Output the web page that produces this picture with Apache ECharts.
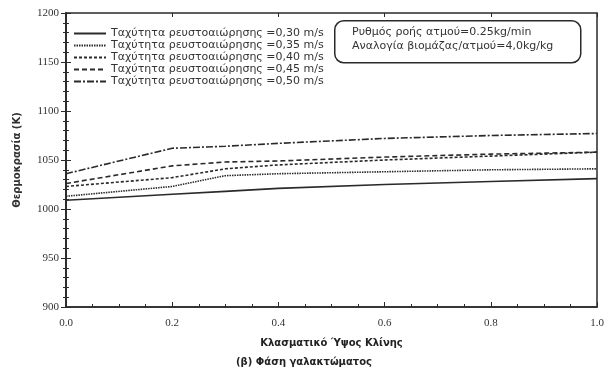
<!DOCTYPE html>
<html><head><meta charset="utf-8">
<script src="https://cdn.jsdelivr.net/npm/echarts@6/dist/echarts.min.js"></script>
<style>html,body{margin:0;padding:0;background:#fff}#c{width:608px;height:374px}</style>
</head><body><div id="c"></div>
<script>
var xPos = [0, 0.2, 0.3, 0.4, 0.6, 0.8, 1.0];
var seriesNames = [
  'Ταχύτητα ρευστοαιώρησης =0,30 m/s',
  'Ταχύτητα ρευστοαιώρησης =0,35 m/s',
  'Ταχύτητα ρευστοαιώρησης =0,40 m/s',
  'Ταχύτητα ρευστοαιώρησης =0,45 m/s',
  'Ταχύτητα ρευστοαιώρησης =0,50 m/s'
];
var v030 = [1009, 1015, 1018, 1021, 1025, 1028, 1031];
var v035 = [1013, 1023, 1034, 1036, 1038, 1040, 1041];
var v040 = [1023, 1032, 1041, 1045, 1050, 1054, 1058];
var v045 = [1026, 1044, 1048, 1049, 1053, 1056, 1058];
var v050 = [1036, 1062, 1064, 1067, 1072, 1075, 1077];
var xTicks = ['0.0', '0.2', '0.4', '0.6', '0.8', '1.0'];
var yTicks = [900, 950, 1000, 1050, 1100, 1150, 1200];
var xTitle = 'Κλασματικό Ύψος Κλίνης';
var subTitle = '(β) Φάση γαλακτώματος';
var yTitle = 'Θερμοκρασία (K)';
var noteLines = ['Ρυθμός ροής ατμού=0.25kg/min', 'Αναλογία βιομάζας/ατμού=4,0kg/kg'];

var allVals = [v030, v035, v040, v045, v050];
var dashes = ['solid', [1.5, 1], [3, 2], [5, 3], [7, 2, 2, 2]];
function pairs(v){ return xPos.map(function(x,i){ return [x, v[i]]; }); }

var chart = echarts.init(document.getElementById('c'));
var ink = '#2a2a2a';
chart.setOption({
  animation:false,
  backgroundColor:'#fff',
  grid:{left:66,right:11,top:13,bottom:67,show:true,borderColor:ink,borderWidth:1.5},
  legend:{
    orient:'vertical',left:68,top:23,itemWidth:32,itemHeight:10,itemGap:1,
    data:seriesNames,
    itemStyle:{opacity:0},
    textStyle:{fontFamily:'DejaVu Sans',fontSize:11,color:'#333',lineHeight:10,height:10}
  },
  xAxis:[
    {type:'value',min:0,max:1,interval:0.2,position:'bottom',
      axisLine:{show:true,lineStyle:{color:ink,width:1.5}},
      axisTick:{show:true,inside:true,length:5,lineStyle:{color:ink}},
      minorTick:{show:true,splitNumber:4,length:3,lineStyle:{color:ink}},
      splitLine:{show:false},
      axisLabel:{color:'#333',fontFamily:'Liberation Serif',fontSize:11,margin:11,
        formatter:function(v){ return xTicks[Math.round(v/0.2)]; }},
      name:xTitle,nameLocation:'middle',nameGap:31,
      nameTextStyle:{fontFamily:'DejaVu Sans',fontWeight:'bold',fontSize:10,color:'#222'}},
    {type:'value',min:0,max:1,interval:0.2,position:'top',
      axisLine:{show:false},axisLabel:{show:false},
      axisTick:{show:true,inside:true,length:4,lineStyle:{color:ink}},splitLine:{show:false}}
  ],
  yAxis:[
    {type:'value',min:900,max:1200,interval:50,
      axisLine:{show:true,lineStyle:{color:ink,width:1.5}},
      axisTick:{show:true,inside:true,length:5,lineStyle:{color:ink}},
      minorTick:{show:true,splitNumber:5,length:3,lineStyle:{color:ink}},
      splitLine:{show:false},
      axisLabel:{color:'#333',fontFamily:'Liberation Serif',fontSize:11,margin:7,
        formatter:function(v){ return yTicks.indexOf(v) >= 0 ? String(v) : ''; }},
      name:yTitle,nameLocation:'middle',nameGap:44,nameRotate:90,
      nameTextStyle:{fontFamily:'DejaVu Sans',fontWeight:'bold',fontSize:10,color:'#333'}},
    {type:'value',min:900,max:1200,interval:50,position:'right',
      axisLine:{show:true,lineStyle:{color:ink,width:1.5}},
      axisTick:{show:true,inside:true,length:5,lineStyle:{color:ink}},
      minorTick:{show:true,splitNumber:5,length:3,lineStyle:{color:ink}},
      axisLabel:{show:false},splitLine:{show:false}}
  ],
  graphic:[
    {type:'rect',left:334,top:20,shape:{width:246,height:42,r:9},
      style:{fill:'#fff',stroke:ink,lineWidth:1.5}},
    {type:'text',left:352,top:27,style:{text:noteLines[0],font:'11px "DejaVu Sans"',fill:'#333'}},
    {type:'text',left:352,top:41,style:{text:noteLines[1],font:'11px "DejaVu Sans"',fill:'#333'}},
    {type:'text',left:'center',top:357,style:{text:subTitle,font:'bold 10px "DejaVu Sans"',fill:'#222'}}
  ],
  series: allVals.map(function(v,i){
    return {name:seriesNames[i],type:'line',data:pairs(v),showSymbol:false,symbol:'none',
      color:ink,lineStyle:{color:ink,width:1.6,type:dashes[i]}};
  })
});
</script></body></html>
